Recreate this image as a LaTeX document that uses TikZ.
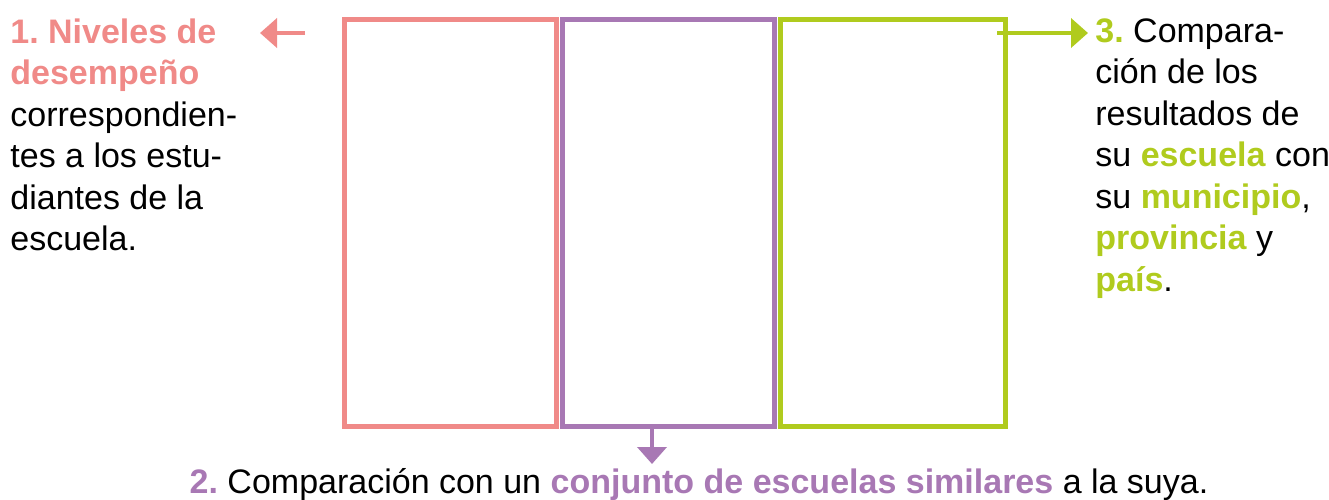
\documentclass[tikz,border=0pt]{standalone}
\usepackage{fontspec}
\setmainfont{Liberation Sans}
\frenchspacing
\usetikzlibrary{arrows.meta}
\definecolor{rosa}{HTML}{F08A88}
\definecolor{lila}{HTML}{A878B4}
\definecolor{lima}{HTML}{B0CB1E}
\tikzset{
  panel/.style={draw,line width=2.5pt,minimum height=203.5pt,inner sep=0pt},
  flecha/.style={line width=2pt,-{Triangle[length=8.5pt,width=14.5pt]}},
  texto/.style={anchor=north west,inner sep=0pt,align=left,font=\fontsize{17}{20.75}\selectfont}
}
\begin{document}
\begin{tikzpicture}[x=0.5pt,y=-0.5pt]
  \useasboundingbox (0,0) rectangle (1329,499);
  \node[panel,draw=rosa,minimum width=106pt](P1) at (450,223) {};
  \node[panel,draw=lima,minimum width=112.5pt](P3) at (892.5,223) {};
  \node[panel,draw=lila,minimum width=106pt](P2) at (668,223) {};
  \node[texto](T1) at (10,18) {\textcolor{rosa}{\textbf{1. Niveles de}}\\\textcolor{rosa}{\textbf{desempeño}}\\correspondien-\\tes a los estu-\\diantes de la\\escuela.};
  \node[texto](T3) at (1095,18) {\textcolor{lima}{\textbf{3.}} Compara-\\ción de los\\resultados de\\su \textcolor{lima}{\textbf{escuela}} con\\su \textcolor{lima}{\textbf{municipio}},\\\textcolor{lima}{\textbf{provincia}} y\\\textcolor{lima}{\textbf{país}}.};
  \node[texto,anchor=base](T2) at (699,493) {\textcolor{lila}{\textbf{2.}} Comparación con un \textcolor{lila}{\textbf{conjunto de escuelas similares}} a la suya.};
  \coordinate (a1) at (305,33);
  \coordinate (b1) at (260,33);
  \coordinate (a3) at (997,33);
  \coordinate (b3) at (1088,33);
  \coordinate (a2) at (652,428);
  \coordinate (b2) at (652,464);
  \draw[flecha,rosa] (a1)--(b1);
  \draw[flecha,lima] (a3)--(b3);
  \draw[flecha,lila] (a2)--(b2);
\end{tikzpicture}
\end{document}
